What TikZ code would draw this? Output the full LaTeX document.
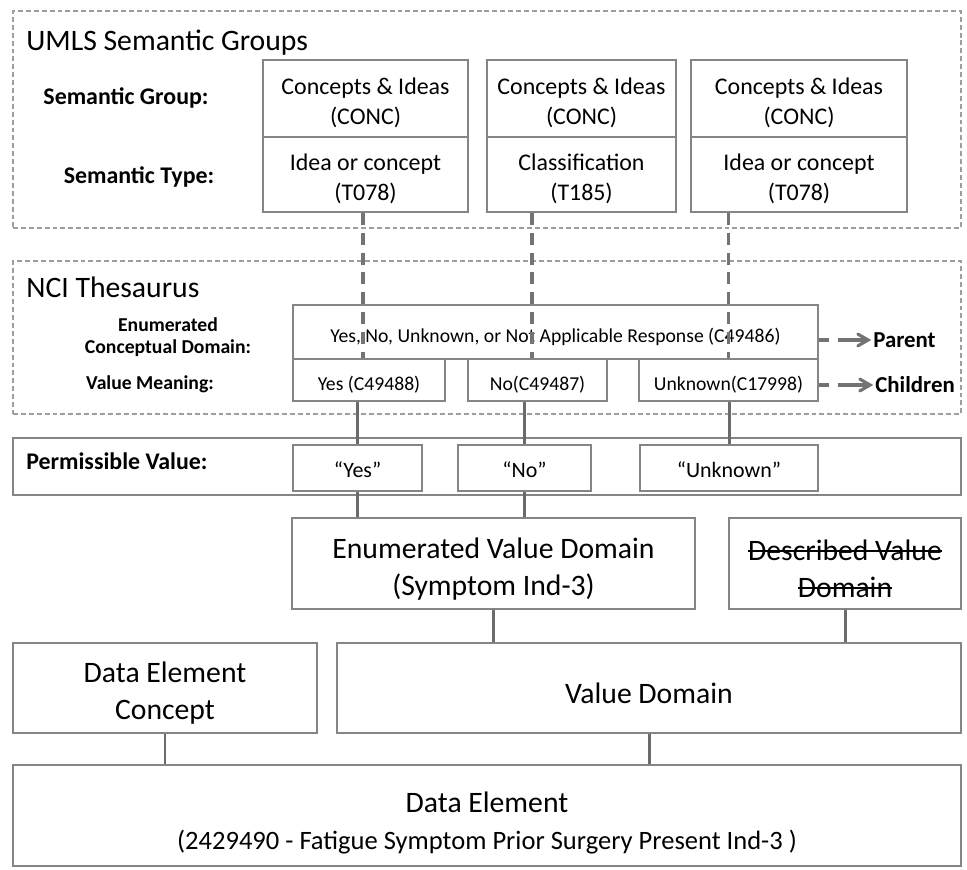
\documentclass[tikz,border=0pt]{standalone}
\usepackage{fontspec}
\setmainfont{Carlito}
\usetikzlibrary{arrows}
\usetikzlibrary{positioning,fit,calc}

\newsavebox{\strikeBox}
\newcommand{\strikeText}[1]{\sbox{\strikeBox}{#1}\leavevmode\rlap{\rule[0.3em]{\wd\strikeBox}{0.7pt}}\usebox{\strikeBox}}

\begin{document}
\begin{tikzpicture}[
  x=0.02cm, y=-0.02cm,
  title/.style={font=\fontsize{16.9}{20}\selectfont, anchor=base west, inner sep=0pt},
  rowLabel/.style={font=\fontsize{13.6}{16}\selectfont\bfseries, align=center, inner sep=0pt},
  smallLabel/.style={font=\fontsize{11.2}{12.5}\selectfont\bfseries, align=center, inner sep=0pt},
  termText/.style={align=center, inner sep=0pt, yshift=-2.5pt, font=\fontsize{13.6}{17}\selectfont},
  meaningText/.style={termText, font=\fontsize{11.2}{14}\selectfont},
  valueText/.style={termText, yshift=1.3pt, font=\fontsize{12.5}{15}\selectfont},
  bigText/.style={termText, yshift=-0.5pt, font=\fontsize{16.9}{21}\selectfont}
]
	\tikzstyle{groupBox} = [rectangle, draw=black!38, line width=0.6pt, dash pattern=on 2.8pt off 1.7pt, inner sep=0pt]
	\tikzstyle{termBox} = [rectangle, draw=black!48, line width=1pt, inner sep=0pt]
	\tikzstyle{link} = [draw=black!58, line width=1.7pt]
	\tikzstyle{dashLink} = [draw=black!55, line width=2pt, dash pattern=on 6.8pt off 4.5pt]
	\tikzstyle{sideLink} = [draw=black!55, line width=1.8pt, dash pattern=on 6pt off 5pt on 30pt off 5pt, -angle 60]

	\useasboundingbox (0,0) rectangle (967,869);

	% UMLS semantic groups
	\node (umls) [groupBox, fit={(13,11) (961,228)}] {};
	\node (umlsTitle) [title] at (26,50) {UMLS Semantic Groups};
	\node (groupLabel) [rowLabel] at (126,98) {Semantic Group:};
	\node (typeLabel) [rowLabel] at (139,177) {Semantic Type:};

	\node (group1) [termBox, fit={(263,60) (468,137)}, label={[termText]center:Concepts \& Ideas\\(CONC)}] {};
	\node (type1) [termBox, fit={(263,137) (468,212)}, label={[termText]center:Idea or concept\\(T078)}] {};
	\node (group2) [termBox, fit={(487,60) (676,137)}, label={[termText]center:Concepts \& Ideas\\(CONC)}] {};
	\node (type2) [termBox, fit={(487,137) (676,212)}, label={[termText]center:Classification\\(T185)}] {};
	\node (group3) [termBox, fit={(691,60) (907,137)}, label={[termText]center:Concepts \& Ideas\\(CONC)}] {};
	\node (type3) [termBox, fit={(691,137) (907,212)}, label={[termText]center:Idea or concept\\(T078)}] {};

	% NCI thesaurus
	\node (nci) [groupBox, fit={(13,261) (961,414)}] {};
	\node (nciTitle) [title] at (26,297) {NCI Thesaurus};
	\node (domainLabel) [smallLabel] at (168,337) {Enumerated\\Conceptual Domain:};
	\node (meaningLabel) [smallLabel] at (150,384) {Value Meaning:};

	\node (ecd) [termBox, fit={(293,305) (818,359)}, label={[meaningText]center:Yes, No, Unknown, or Not Applicable Response (C49486)}] {};
	\node (vmYes) [termBox, fit={(293,359) (445,401)}, label={[meaningText]center:Yes (C49488)}] {};
	\node (vmNo) [termBox, fit={(468,359) (607,401)}, label={[meaningText]center:No(C49487)}] {};
	\node (vmUnknown) [termBox, fit={(639,359) (818,401)}, label={[meaningText]center:Unknown(C17998)}] {};

	\node (parentLabel) [rowLabel, font=\fontsize{13}{16}\selectfont\bfseries, anchor=west] at (873,340) {Parent};
	\node (childrenLabel) [rowLabel, font=\fontsize{13}{16}\selectfont\bfseries, anchor=west] at (875,385) {Children};
	\draw[sideLink] (ecd.east |- parentLabel.west) -- ([xshift=-1pt]parentLabel.west);
	\draw[sideLink] (vmUnknown.east |- childrenLabel.west) -- ([xshift=-1pt]childrenLabel.west);

	% semantic types down to value meanings
	\draw[dashLink] (type1.south -| 363,0) -- (vmYes.north -| 363,0);
	\draw[dashLink] (type2.south -| 532,0) -- (vmNo.north -| 532,0);
	\draw[dashLink] (type3.south -| vmUnknown.north) -- (vmUnknown.north);

	% permissible values
	\node (pv) [termBox, fit={(13,438) (961,495)}] {};
	\node (pvLabel) [rowLabel, anchor=base west] at (26,469) {Permissible Value:};
	\node (pvYes) [termBox, fit={(293,445) (422,491)}, label={[valueText]center:“Yes”}] {};
	\node (pvNo) [termBox, fit={(458,445) (591,491)}, label={[valueText]center:“No”}] {};
	\node (pvUnknown) [termBox, fit={(640,445) (818,491)}, label={[valueText]center:“Unknown”}] {};

	\draw[link] (pvYes.north |- vmYes.south) -- (pvYes.north);
	\draw[link] (pvNo.north |- vmNo.south) -- (pvNo.north);
	\draw[link] (pvUnknown.north |- vmUnknown.south) -- (pvUnknown.north);

	% value domains
	\node (evd) [termBox, fit={(292,518) (695,609)}, label={[bigText]center:Enumerated Value Domain\\(Symptom Ind-3)}] {};
	\node (dvd) [termBox, fit={(729,518) (961,609)}, label={[bigText]center:\strikeText{Described Value}\\\strikeText{Domain}}] {};

	\draw[link] (pvYes.south) -- (pvYes.south |- evd.north);
	\draw[link] (pvNo.south) -- (pvNo.south |- evd.north);
	\draw[link] ($(pvUnknown.south west)!0.2!(pvUnknown.south east)$) -- ($(pvUnknown.south west)!0.2!(pvUnknown.south east)$ |- evd.north);

	\node (dec) [termBox, fit={(13,643) (317,733)}, label={[bigText]center:Data Element\\Concept}] {};
	\node (vd) [termBox, fit={(337,643) (961,733)}, label={[bigText]center:Value Domain}] {};
	\draw[link] (evd.south) -- (evd.south |- vd.north);
	\draw[link] (dvd.south) -- (dvd.south |- vd.north);

	% data element
	\node (de) [termBox, fit={(13,765) (961,866)}, label={[bigText, yshift=-1pt]center:Data Element\\{\fontsize{15.1}{21}\selectfont(2429490 - Fatigue Symptom Prior Surgery Present Ind-3 )}}] {};
	\draw[link] (dec.south) -- (dec.south |- de.north);
	\draw[link] (vd.south) -- (vd.south |- de.north);

\end{tikzpicture}
\end{document}
